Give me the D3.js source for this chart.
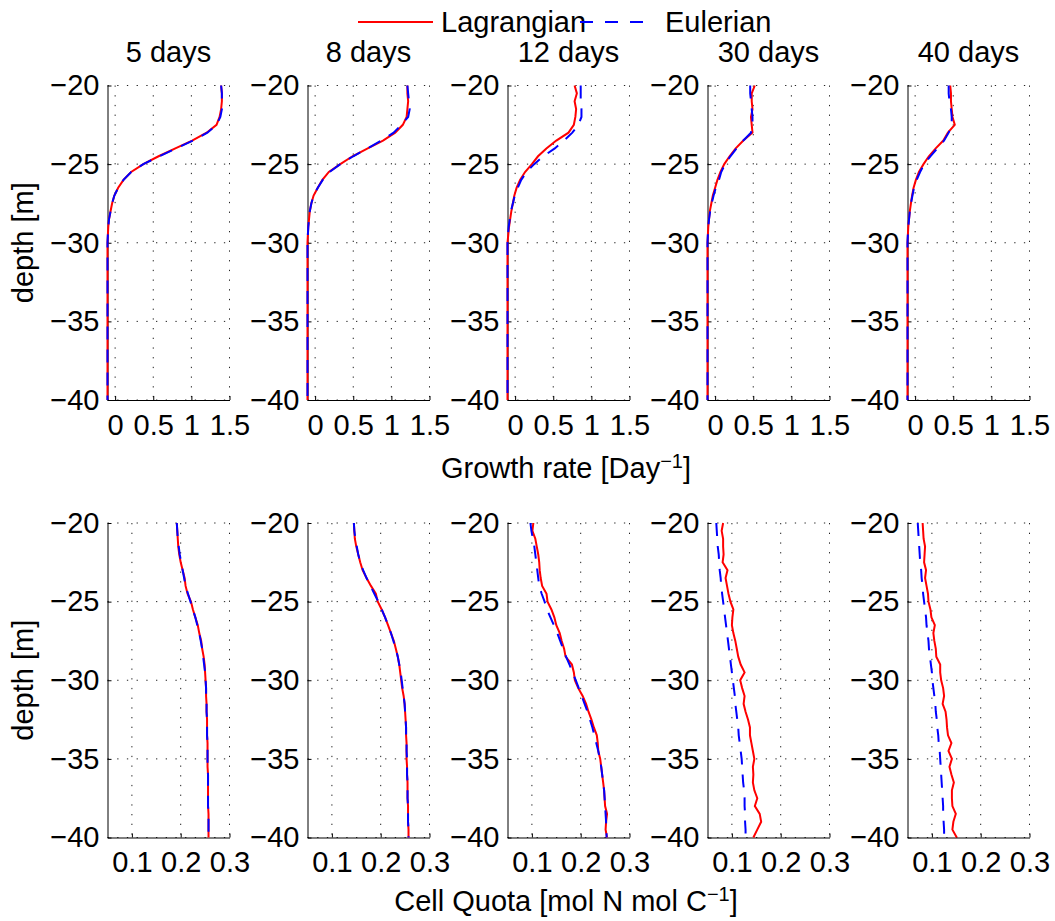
<!DOCTYPE html>
<html>
<head>
<meta charset="utf-8">
<script src="https://cdn.jsdelivr.net/npm/d3@7"></script>
<style>
  body { margin: 0; background: #fff; }
  svg text { font-family: "Liberation Sans", Arial, Helvetica, sans-serif; fill: #000; }
</style>
</head>
<body>
<div class="page-svg"></div>
<script>
// depth levels (m), shared by every profile
const depth = [-20,-20.5,-21,-21.5,-22,-22.5,-23,-23.5,-24,-24.5,-25,-25.5,-26,-26.5,-27,-27.5,-28,-28.5,-29,-29.5,
               -30,-30.5,-31,-31.5,-32,-32.5,-33,-33.5,-34,-34.5,-35,-35.5,-36,-36.5,-37,-37.5,-38,-38.5,-39,-39.5,-40]

const days = ['5 days', '8 days', '12 days', '30 days', '40 days']

// tick values / labels
const depthTicks = [-40, -35, -30, -25, -20]
const growthTicks = [0, 0.5, 1, 1.5]
const growthTickLabels = ['0', '0.5', '1', '1.5']
const quotaTicks = [0.1, 0.2, 0.3]
const quotaTickLabels = ['0.1', '0.2', '0.3']

// growth rate [1/day], one profile per day
const growthLagrangian = [
  [1.39,1.40,1.40,1.39,1.37,1.33,1.20,1.01,0.79,0.57,0.37,0.21,0.11,0.04,-0.01,-0.04,-0.06,-0.08,-0.09,-0.095,
   -0.1,-0.1,-0.1,-0.1,-0.1,-0.1,-0.1,-0.1,-0.1,-0.1,-0.1,-0.1,-0.1,-0.1,-0.1,-0.1,-0.1,-0.1,-0.1,-0.1,-0.1],
  [1.21,1.21,1.22,1.21,1.20,1.15,1.05,0.89,0.69,0.49,0.33,0.18,0.095,0.035,-0.02,-0.05,-0.07,-0.08,-0.09,-0.095,
   -0.1,-0.1,-0.1,-0.1,-0.1,-0.1,-0.1,-0.1,-0.1,-0.1,-0.1,-0.1,-0.1,-0.1,-0.1,-0.1,-0.1,-0.1,-0.1,-0.1,-0.1],
  [0.78,0.81,0.78,0.80,0.79,0.77,0.70,0.54,0.41,0.30,0.22,0.13,0.065,0.02,-0.01,-0.03,-0.05,-0.065,-0.08,-0.09,
   -0.1,-0.1,-0.1,-0.1,-0.1,-0.1,-0.1,-0.1,-0.1,-0.1,-0.1,-0.1,-0.1,-0.1,-0.1,-0.1,-0.1,-0.1,-0.1,-0.1,-0.1],
  [0.52,0.48,0.48,0.49,0.47,0.48,0.49,0.37,0.27,0.19,0.12,0.07,0.03,0.0,-0.03,-0.05,-0.07,-0.08,-0.09,-0.095,
   -0.1,-0.1,-0.1,-0.1,-0.1,-0.1,-0.1,-0.1,-0.1,-0.1,-0.1,-0.1,-0.1,-0.1,-0.1,-0.1,-0.1,-0.1,-0.1,-0.1,-0.1],
  [0.46,0.47,0.47,0.48,0.49,0.52,0.43,0.37,0.27,0.18,0.11,0.05,0.01,-0.02,-0.04,-0.055,-0.07,-0.08,-0.09,-0.095,
   -0.1,-0.1,-0.1,-0.1,-0.1,-0.1,-0.1,-0.1,-0.1,-0.1,-0.1,-0.1,-0.1,-0.1,-0.1,-0.1,-0.1,-0.1,-0.1,-0.1,-0.1]
]
const growthEulerian = [
  [1.39,1.40,1.40,1.40,1.38,1.33,1.21,1.02,0.80,0.58,0.37,0.21,0.11,0.04,-0.01,-0.04,-0.06,-0.08,-0.09,-0.095,
   -0.1,-0.1,-0.1,-0.1,-0.1,-0.1,-0.1,-0.1,-0.1,-0.1,-0.1,-0.1,-0.1,-0.1,-0.1,-0.1,-0.1,-0.1,-0.1,-0.1,-0.1],
  [1.21,1.22,1.23,1.24,1.22,1.13,1.03,0.87,0.69,0.50,0.33,0.19,0.10,0.035,-0.02,-0.05,-0.07,-0.08,-0.09,-0.095,
   -0.1,-0.1,-0.1,-0.1,-0.1,-0.1,-0.1,-0.1,-0.1,-0.1,-0.1,-0.1,-0.1,-0.1,-0.1,-0.1,-0.1,-0.1,-0.1,-0.1,-0.1],
  [0.86,0.86,0.86,0.87,0.87,0.83,0.75,0.64,0.52,0.37,0.25,0.15,0.08,0.035,-0.005,-0.03,-0.055,-0.07,-0.085,-0.093,
   -0.1,-0.1,-0.1,-0.1,-0.1,-0.1,-0.1,-0.1,-0.1,-0.1,-0.1,-0.1,-0.1,-0.1,-0.1,-0.1,-0.1,-0.1,-0.1,-0.1,-0.1],
  [0.46,0.46,0.47,0.48,0.49,0.49,0.47,0.37,0.28,0.20,0.13,0.08,0.05,0.01,-0.02,-0.045,-0.065,-0.08,-0.09,-0.095,
   -0.1,-0.1,-0.1,-0.1,-0.1,-0.1,-0.1,-0.1,-0.1,-0.1,-0.1,-0.1,-0.1,-0.1,-0.1,-0.1,-0.1,-0.1,-0.1,-0.1,-0.1],
  [0.44,0.44,0.45,0.47,0.48,0.48,0.44,0.38,0.29,0.20,0.12,0.065,0.02,-0.015,-0.035,-0.055,-0.07,-0.08,-0.09,-0.095,
   -0.1,-0.1,-0.1,-0.1,-0.1,-0.1,-0.1,-0.1,-0.1,-0.1,-0.1,-0.1,-0.1,-0.1,-0.1,-0.1,-0.1,-0.1,-0.1,-0.1,-0.1]
]

// cell quota [mol N / mol C]
const quotaLagrangian = [
  [0.192,0.193,0.194,0.195,0.197,0.200,0.204,0.208,0.210,0.214,0.221,0.225,0.230,0.235,0.238,0.242,0.244,0.247,0.249,0.250,
   0.251,0.252,0.252,0.253,0.253,0.254,0.254,0.254,0.255,0.255,0.255,0.255,0.256,0.256,0.256,0.256,0.256,0.257,0.257,0.257,0.257],
  [0.145,0.146,0.147,0.150,0.154,0.158,0.163,0.171,0.180,0.190,0.194,0.202,0.209,0.215,0.221,0.227,0.231,0.235,0.238,0.240,
   0.242,0.244,0.247,0.249,0.250,0.251,0.252,0.252,0.253,0.253,0.253,0.254,0.254,0.255,0.255,0.255,0.256,0.256,0.256,0.257,0.257],
  [0.103,0.101,0.107,0.110,0.113,0.115,0.116,0.118,0.121,0.130,0.132,0.140,0.146,0.150,0.157,0.161,0.166,0.169,0.182,0.186,
   0.188,0.195,0.204,0.211,0.216,0.222,0.227,0.233,0.235,0.236,0.240,0.242,0.244,0.246,0.248,0.249,0.250,0.254,0.252,0.251,0.254],
  [0.082,0.079,0.082,0.082,0.083,0.081,0.091,0.087,0.090,0.093,0.097,0.103,0.101,0.100,0.103,0.107,0.110,0.113,0.118,0.126,
   0.117,0.121,0.126,0.124,0.128,0.133,0.137,0.137,0.140,0.143,0.146,0.143,0.144,0.143,0.146,0.152,0.147,0.157,0.160,0.152,0.144],
  [0.081,0.082,0.083,0.086,0.085,0.084,0.088,0.086,0.089,0.092,0.093,0.097,0.099,0.106,0.103,0.105,0.108,0.109,0.117,0.117,
   0.119,0.123,0.125,0.122,0.128,0.130,0.131,0.133,0.140,0.134,0.141,0.136,0.140,0.145,0.141,0.141,0.142,0.149,0.144,0.142,0.151]
]
const quotaEulerian = [
  [0.192,0.193,0.194,0.196,0.198,0.201,0.204,0.207,0.210,0.215,0.220,0.225,0.230,0.234,0.238,0.241,0.244,0.246,0.248,0.250,
   0.251,0.252,0.252,0.253,0.253,0.254,0.254,0.254,0.255,0.255,0.255,0.255,0.256,0.256,0.256,0.256,0.256,0.257,0.257,0.257,0.257],
  [0.145,0.146,0.148,0.151,0.154,0.158,0.164,0.171,0.179,0.187,0.195,0.202,0.209,0.215,0.221,0.226,0.231,0.235,0.238,0.241,
   0.243,0.245,0.247,0.249,0.250,0.251,0.252,0.252,0.253,0.253,0.254,0.254,0.254,0.255,0.255,0.255,0.256,0.256,0.256,0.257,0.257],
  [0.097,0.099,0.102,0.105,0.107,0.109,0.111,0.113,0.115,0.120,0.126,0.131,0.138,0.145,0.152,0.158,0.164,0.170,0.177,0.183,
   0.190,0.196,0.202,0.208,0.214,0.219,0.224,0.228,0.232,0.236,0.239,0.242,0.244,0.246,0.248,0.249,0.250,0.251,0.252,0.253,0.253],
  [0.068,0.069,0.070,0.071,0.073,0.074,0.075,0.077,0.078,0.080,0.082,0.084,0.086,0.088,0.090,0.092,0.094,0.096,0.098,0.100,
   0.102,0.104,0.106,0.107,0.109,0.111,0.113,0.114,0.116,0.118,0.120,0.121,0.122,0.123,0.125,0.126,0.126,0.127,0.127,0.128,0.128],
  [0.071,0.072,0.073,0.074,0.075,0.076,0.078,0.079,0.081,0.082,0.084,0.086,0.088,0.089,0.091,0.093,0.094,0.096,0.098,0.100,
   0.101,0.103,0.105,0.107,0.108,0.110,0.111,0.113,0.114,0.116,0.117,0.118,0.119,0.120,0.121,0.122,0.123,0.123,0.124,0.125,0.125]
]

// layout
const width = 1055, height = 921
const fontSize = 29
const panelWidth = 122
const panelLeft = i => 107.5 + i * 200
const rows = [
  { top: 85.5, bottom: 400, domain: [-0.1, 1.5], ticks: growthTicks, labels: growthTickLabels,
    lag: growthLagrangian, eul: growthEulerian },
  { top: 523, bottom: 837.5, domain: [0.05, 0.3], ticks: quotaTicks, labels: quotaTickLabels,
    lag: quotaLagrangian, eul: quotaEulerian }
]
const red = '#ff0000', blue = '#0000ff'
const dash = '13,10'

const svg = d3.select('.page-svg').append('svg')
  .attr('width', width)
  .attr('height', height)

const drawPanel = (row, i) => {
  const left = panelLeft(i)
  const x = d3.scaleLinear().domain(row.domain).range([left, left + panelWidth])
  const y = d3.scaleLinear().domain([-40, -20]).range([row.bottom, row.top])
  const g = svg.append('g')

  // dotted grid
  g.append('g').selectAll('line')
    .data(row.ticks)
    .join('line')
      .attr('x1', d => x(d)).attr('x2', d => x(d))
      .attr('y1', row.top).attr('y2', row.bottom)
  g.append('g').selectAll('line')
    .data(depthTicks)
    .join('line')
      .attr('x1', left).attr('x2', left + panelWidth)
      .attr('y1', d => y(d)).attr('y2', d => y(d))
  g.selectAll('line')
    .attr('stroke', '#222')
    .attr('stroke-width', 1)
    .attr('stroke-dasharray', '1.3,8.4')

  // axes
  const yAxis = d3.axisLeft(y)
    .tickValues(depthTicks)
    .tickSize(-4)
    .tickSizeOuter(0)
    .tickPadding(8)
  const xAxis = d3.axisBottom(x)
    .tickValues(row.ticks)
    .tickFormat((d, k) => row.labels[k])
    .tickSize(-4)
    .tickSizeOuter(0)
    .tickPadding(14)

  g.append('g')
    .attr('transform', `translate(${left},0)`)
    .call(yAxis)
  g.append('g')
    .attr('transform', `translate(0,${row.bottom})`)
    .call(xAxis)
  g.selectAll('.domain, .tick line').attr('stroke', '#000')
  g.selectAll('.tick text')
    .attr('font-size', fontSize)
    .attr('font-family', '"Liberation Sans", Arial, Helvetica, sans-serif')
    .attr('fill', '#000')

  // profiles
  const line = d3.line()
    .x(d => x(d[1]))
    .y(d => y(d[0]))
  g.append('path')
    .datum(d3.zip(depth, row.lag[i]))
    .attr('fill', 'none')
    .attr('stroke', red)
    .attr('stroke-width', 2)
    .attr('d', line)
  g.append('path')
    .datum(d3.zip(depth, row.eul[i]))
    .attr('fill', 'none')
    .attr('stroke', blue)
    .attr('stroke-width', 2)
    .attr('stroke-dasharray', dash)
    .attr('d', line)
}

rows.forEach(row => days.forEach((d, i) => drawPanel(row, i)))

// titles
svg.append('g').selectAll('text')
  .data(days)
  .join('text')
    .attr('x', (d, i) => panelLeft(i) + panelWidth / 2)
    .attr('y', 62)
    .attr('text-anchor', 'middle')
    .attr('font-size', fontSize)
    .text(d => d)

// y labels
rows.forEach(row => {
  svg.append('text')
    .attr('transform', `translate(33,${(row.top + row.bottom) / 2}) rotate(-90)`)
    .attr('text-anchor', 'middle')
    .attr('font-size', fontSize)
    .text('depth [m]')
})

// x labels with superscript
const xLabel = (yPos, main) => {
  const t = svg.append('text')
    .attr('x', 566)
    .attr('y', yPos)
    .attr('text-anchor', 'middle')
    .attr('font-size', fontSize)
  t.append('tspan').text(main)
  t.append('tspan').attr('dy', -10).attr('font-size', 20).text('−1')
  t.append('tspan').attr('dy', 10).text(']')
}
xLabel(478, 'Growth rate [Day')
xLabel(911, 'Cell Quota [mol N mol C')

// legend
const legend = svg.append('g')
legend.append('line')
  .attr('x1', 358).attr('x2', 433).attr('y1', 22).attr('y2', 22)
  .attr('stroke', red).attr('stroke-width', 2)
legend.append('text')
  .attr('x', 441).attr('y', 32)
  .attr('font-size', fontSize)
  .text('Lagrangian')
legend.append('line')
  .attr('x1', 580).attr('x2', 643).attr('y1', 22).attr('y2', 22)
  .attr('stroke', blue).attr('stroke-width', 2)
  .attr('stroke-dasharray', '13,12')
legend.append('text')
  .attr('x', 665).attr('y', 32)
  .attr('font-size', fontSize)
  .text('Eulerian')
</script>
</body>
</html>
